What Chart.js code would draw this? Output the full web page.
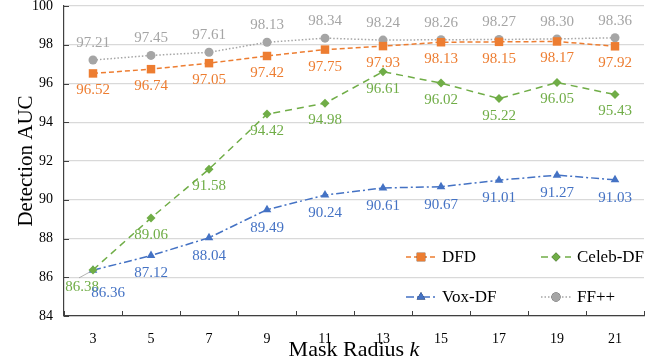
<!DOCTYPE html>
<html>
<head>
<meta charset="utf-8">
<script src="https://cdn.jsdelivr.net/npm/chart.js@4.4.1/dist/chart.umd.min.js"></script>
<style>
  html, body { margin: 0; padding: 0; background: #fff; }
  #wrap { width: 657px; height: 362px; }
</style>
</head>
<body>
<div id="wrap"><canvas id="myChart" width="657" height="362"></canvas></div>
<script>
'use strict';

// DATA
let radiusLabels = ['3', '5', '7', '9', '11', '13', '15', '17', '19', '21'];
let dfdValues = [96.52, 96.74, 97.05, 97.42, 97.75, 97.93, 98.13, 98.15, 98.17, 97.92];
let celebValues = [86.38, 89.06, 91.58, 94.42, 94.98, 96.61, 96.02, 95.22, 96.05, 95.43];
let voxValues = [86.36, 87.12, 88.04, 89.49, 90.24, 90.61, 90.67, 91.01, 91.27, 91.03];
let ffValues = [97.21, 97.45, 97.61, 98.13, 98.34, 98.24, 98.26, 98.27, 98.30, 98.36];
let yMin = 84;
let yMax = 100;
let yStep = 2;

// COLORS / FONTS
let orange = '#ED7D31';
let green = '#70AD47';
let blue = '#4472C4';
let gray = '#A5A5A5';
let serif = '"Liberation Serif", "Times New Roman", serif';

// label offsets (dx, dy) in px from the point
let labelShift = {
  DFD: (i) => [0, 17],
  'Celeb-DF': (i) => (i === 0 ? [-11, 17] : [0, 17]),
  'Vox-DF': (i) => (i === 0 ? [15, 23] : [0, 18]),
  'FF++': (i) => [0, -17],
};

// draws the value next to every point
let valueLabels = {
  id: 'valueLabels',
  afterDatasetsDraw(chart) {
    let ctx = chart.ctx;
    ctx.save();
    ctx.font = '15px ' + serif;
    ctx.textAlign = 'center';
    ctx.textBaseline = 'middle';
    chart.data.datasets.forEach((ds, di) => {
      let meta = chart.getDatasetMeta(di);
      meta.data.forEach((pt, i) => {
        let off = labelShift[ds.label](i);
        ctx.fillStyle = ds.borderColor;
        ctx.fillText(ds.data[i].toFixed(2), pt.x + off[0], pt.y + off[1]);
      });
    });
    // small leader line for the first Celeb-DF label
    let p = chart.getDatasetMeta(1).data[0];
    ctx.strokeStyle = '#a0a0a0';
    ctx.lineWidth = 0.8;
    ctx.beginPath();
    ctx.moveTo(p.x - 3, p.y + 2);
    ctx.lineTo(p.x - 14, p.y + 8);
    ctx.stroke();
    ctx.restore();
  },
};

// inward tick marks, legend and the x title
let extras = {
  id: 'extras',
  afterDraw(chart) {
    let ctx = chart.ctx;
    let area = chart.chartArea;
    let xs = chart.scales.x;
    let ys = chart.scales.y;
    ctx.save();
    ctx.strokeStyle = '#404040';
    ctx.lineWidth = 1;
    for (let v = yMin; v <= yMax; v += yStep) {
      let y = Math.round(ys.getPixelForValue(v)) + 0.5;
      ctx.beginPath();
      ctx.moveTo(area.left, y);
      ctx.lineTo(area.left + 5, y);
      ctx.stroke();
    }
    let band = xs.getPixelForValue(1) - xs.getPixelForValue(0);
    for (let i = 0; i <= radiusLabels.length; i++) {
      let x = Math.round(xs.getPixelForValue(0) - band / 2 + i * band) + 0.5;
      ctx.beginPath();
      ctx.moveTo(x, area.bottom);
      ctx.lineTo(x, area.bottom - 5);
      ctx.stroke();
    }

    // legend
    let items = [
      { ds: 0, x: 406, y: 257 },
      { ds: 1, x: 541, y: 257 },
      { ds: 2, x: 406, y: 297 },
      { ds: 3, x: 541, y: 297 },
    ];
    ctx.font = '17px ' + serif;
    ctx.textBaseline = 'middle';
    ctx.textAlign = 'left';
    items.forEach((it) => {
      let ds = chart.data.datasets[it.ds];
      ctx.save();
      ctx.strokeStyle = ds.borderColor;
      ctx.lineWidth = ds.borderWidth;
      ctx.setLineDash(ds.borderDash);
      ctx.beginPath();
      ctx.moveTo(it.x, it.y);
      ctx.lineTo(it.x + 30, it.y);
      ctx.stroke();
      ctx.restore();
      Chart.helpers.drawPoint(ctx, {
        pointStyle: ds.pointStyle,
        radius: ds.pointRadius,
        rotation: 0,
        borderWidth: 0,
      }, it.x + 15, it.y);
      ctx.fillStyle = ds.borderColor;
      ctx.fill();
      ctx.fillStyle = '#000';
      ctx.fillText(ds.label, it.x + 36, it.y + 1);
    });

    // x title with italic k
    ctx.font = '22px ' + serif;
    ctx.textBaseline = 'alphabetic';
    let part = 'Mask Radius ';
    let w1 = ctx.measureText(part).width;
    ctx.font = 'italic 22px ' + serif;
    let w2 = ctx.measureText('k').width;
    let cx = (area.left + area.right) / 2;
    let x0 = cx - (w1 + w2) / 2;
    ctx.fillStyle = '#000';
    ctx.font = '22px ' + serif;
    ctx.fillText(part, x0, 356);
    ctx.font = 'italic 22px ' + serif;
    ctx.fillText('k', x0 + w1, 356);
    ctx.restore();
  },
};

function makeSet(label, values, color, dash, style, radius) {
  return {
    label: label,
    data: values,
    borderColor: color,
    backgroundColor: color,
    borderWidth: 1.5,
    borderDash: dash,
    pointStyle: style,
    pointRadius: radius,
    pointBorderWidth: 0,
    pointBackgroundColor: color,
    tension: 0,
  };
}

let canvasElem = document.getElementById('myChart').getContext('2d');

let myChartObj = {
  type: 'line',
  data: {
    labels: radiusLabels,
    datasets: [
      makeSet('DFD', dfdValues, orange, [5, 3], 'rect', 6),
      makeSet('Celeb-DF', celebValues, green, [7, 5], 'rectRot', 4.5),
      makeSet('Vox-DF', voxValues, blue, [8, 3, 2, 3], 'triangle', 5),
      makeSet('FF++', ffValues, gray, [1.5, 2], 'circle', 4.5),
    ],
  },
  options: {
    responsive: false,
    animation: false,
    layout: { padding: { top: 6, right: 13, left: 0, bottom: 0 } },
    plugins: {
      legend: { display: false },
      tooltip: { enabled: false },
    },
    scales: {
      x: {
        offset: true,
        grid: { display: false, offset: true },
        border: { color: '#404040', width: 1.2 },
        ticks: { color: '#000', font: { family: serif, size: 14 }, padding: 7, maxRotation: 0 },
        afterFit: (scale) => { scale.height = 46; scale.paddingLeft = 0; scale.paddingRight = 0; },
      },
      y: {
        min: yMin,
        max: yMax,
        ticks: { stepSize: yStep, color: '#000', font: { family: serif, size: 14 }, padding: 11 },
        grid: { color: '#d9d9d9', lineWidth: 1.2, drawTicks: false },
        border: { color: '#404040', width: 1.2 },
        title: { display: true, text: 'Detection AUC', color: '#000', font: { family: serif, size: 21 }, padding: { top: 14, bottom: 0 } },
        afterFit: (scale) => { scale.width = 64; scale.paddingTop = 0; scale.paddingBottom = 0; },
      },
    },
  },
  plugins: [valueLabels, extras],
};

new Chart(canvasElem, myChartObj);
</script>
</body>
</html>
